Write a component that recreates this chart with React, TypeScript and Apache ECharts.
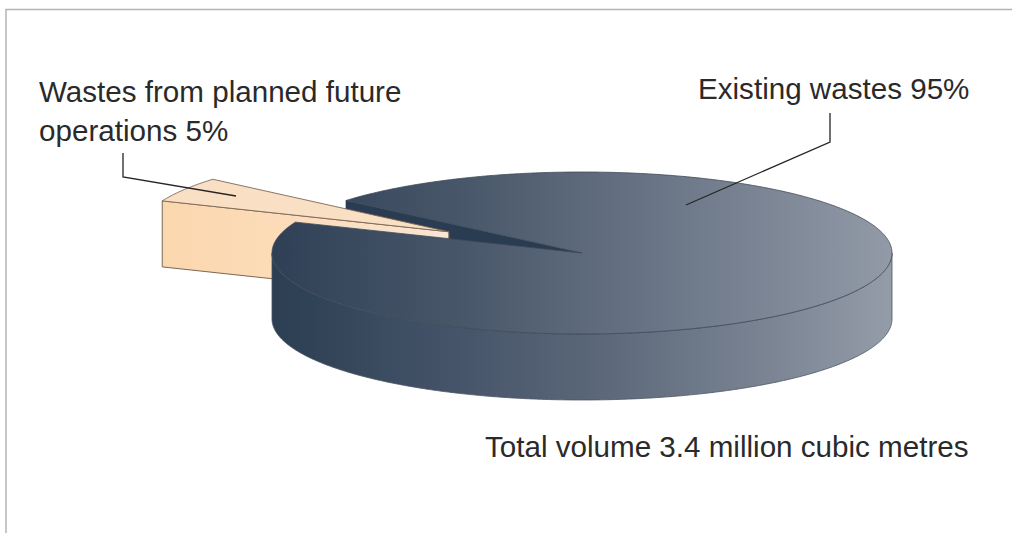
import React, { useEffect, useRef } from "react";
import * as echarts from "echarts";

const sliceNames = ["Existing wastes", "Wastes from planned future operations"];
const sliceValues = [95, 5];
const topLabel = "Existing wastes 95%";
const leftLabel = "Wastes from planned future\noperations 5%";
const totalLabel = "Total volume 3.4 million cubic metres";

const CX = 582, CY = 253, RX = 310, RY = 81, H = 66;
const SLICE_MID = 211.4; // screen angle of the small slice's middle
const EXPLODE = 156;

const rad = (d: number) => (d * Math.PI) / 180;
const pt = (ox: number, oy: number, a: number, dy = 0) => [
  ox + RX * Math.cos(rad(a)),
  oy + RY * Math.sin(rad(a)) + dy,
];
const arc = (ox: number, oy: number, a0: number, a1: number, dy = 0) => {
  const n = Math.max(2, Math.ceil(Math.abs(a1 - a0) * 2));
  const out: number[][] = [];
  for (let i = 0; i <= n; i++) out.push(pt(ox, oy, a0 + ((a1 - a0) * i) / n, dy));
  return out;
};
const grad = (stops: [number, string][]) =>
  new echarts.graphic.LinearGradient(0, 0, 1, 0, stops.map(([offset, color]) => ({ offset, color })));

export default function App() {
  const ref = useRef<HTMLDivElement>(null);
  useEffect(() => {
    const chart = echarts.init(ref.current!, undefined, { renderer: "svg" });
    const total = sliceValues[0] + sliceValues[1];
    const sweep = (sliceValues[1] / total) * 360;
    const a0 = SLICE_MID - sweep / 2;
    const a1 = SLICE_MID + sweep / 2;
    const ox = CX + EXPLODE * Math.cos(rad(SLICE_MID));
    const oy = CY + RY * (EXPLODE / RX) * Math.sin(rad(SLICE_MID));
    const poly = (points: number[][], fill: any, stroke: string, lw = 0.8) => ({
      type: "polygon",
      shape: { points },
      style: { fill, stroke, lineWidth: lw },
    });

    const backWall = () => {
      const e = pt(CX, CY, a1);
      return poly([[CX, CY], e, [e[0], e[1] + H], [CX, CY + H]], "#2a3c52", "#2a3c52", 0.5);
    };
    const smallSlice = () => {
      const e0 = pt(ox, oy, a0);
      return {
        type: "group",
        children: [
          poly([[ox, oy], [ox, oy + H], [e0[0], e0[1] + H], e0], grad([[0, "#fbd7ae"], [0.45, "#fcdcba"], [1, "#f8e6d4"]]), "#7d6654", 1),
          poly([[ox, oy], ...arc(ox, oy, a0, a1)], "#f9dfc4", "#7d6654", 0.9),
        ],
      };
    };
    const body = () => ({
      type: "group",
      children: [
        poly(
          [...arc(CX, CY, 180, 0), ...arc(CX, CY, 0, 180, H)],
          grad([[0, "#2b3e52"], [0.3, "#46546a"], [0.55, "#5e6a7b"], [0.8, "#7a8493"], [1, "#959ca9"]]),
          "#4a5462"
        ),
        poly(
          [[CX, CY], ...arc(CX, CY, a1, 360 + a0)],
          grad([[0, "#2f4056"], [0.3, "#485669"], [0.55, "#626e80"], [0.8, "#7c8695"], [1, "#929aa7"]]),
          "#3f4957"
        ),
      ],
    });

    const custom = (name: string, value: number, renderItem: any) => ({
      type: "custom",
      name,
      coordinateSystem: "none",
      data: [value],
      silent: true,
      renderItem,
    });

    const label = (x: number, y: number, text: string, align = "left") => ({
      type: "text",
      x,
      y,
      style: {
        text,
        fill: "#2a2a2a",
        font: '29.6px "Liberation Sans", Arial, sans-serif',
        textAlign: align,
        textVerticalAlign: "middle",
        lineHeight: 39,
      },
    });
    const line = (points: number[][], stroke: string, lineWidth: number) => ({
      type: "polyline",
      shape: { points },
      style: { stroke, lineWidth, fill: "none" },
      z: 10,
    });

    chart.setOption({
      animation: false,
      backgroundColor: "#ffffff",
      series: [
        custom(sliceNames[0], sliceValues[0], backWall),
        custom(sliceNames[1], sliceValues[1], smallSlice),
        custom(sliceNames[0], sliceValues[0], body),
      ],
      graphic: [
        line([[6, 533], [6, 9.5], [1012, 9.5]], "#b4b4b8", 1.5),
        line([[123, 153], [123, 177], [236, 196]], "#262626", 1.3),
        line([[830, 113], [830, 142], [686, 205]], "#262626", 1.3),
        label(39, 111, leftLabel),
        label(698, 88, topLabel),
        label(485, 446, totalLabel),
      ],
    });
    return () => chart.dispose();
  }, []);
  return <div ref={ref} style={{ position: "absolute", left: 0, top: 0, width: 1012, height: 533 }} />;
}
